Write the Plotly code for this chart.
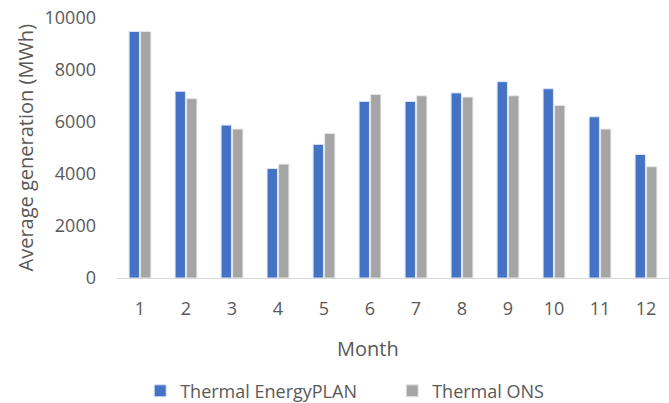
import plotly.graph_objects as go

months = [str(m) for m in range(1, 13)]
energyplan = [9480, 7180, 5880, 4210, 5140, 6790, 6790, 7120, 7550, 7280, 6200, 4750]
ons = [9480, 6900, 5730, 4380, 5560, 7060, 7010, 6960, 7010, 6640, 5730, 4280]
y_ticks = [0, 2000, 4000, 6000, 8000, 10000]

font_family = "Open Sans, Noto Sans, sans-serif"
text_color = "#595959"
fs = 18
title_fs = 20

fig = go.Figure()
fig.add_trace(go.Bar(x=months, y=energyplan, name="Thermal EnergyPLAN",
                     marker=dict(color="#4472C4", line=dict(color="#DCE6F5", width=1))))
fig.add_trace(go.Bar(x=months, y=ons, name="Thermal ONS",
                     marker=dict(color="#A5A5A5", line=dict(color="#E8E8E8", width=1))))

fig.update_layout(
    width=669, height=403,
    margin=dict(l=117, r=0, t=18, b=125, autoexpand=False),
    paper_bgcolor="white", plot_bgcolor="white",
    barmode="group", bargap=0.5, bargroupgap=0.1,
    font=dict(family=font_family, size=fs, color=text_color),
    showlegend=True,
    legend=dict(orientation="h", x=0.042, xanchor="left", y=-0.435, yanchor="middle",
                font=dict(size=fs, color=text_color), entrywidth=207,
                traceorder="normal"),
    xaxis=dict(showline=True, linecolor="#D9D9D9", linewidth=1, ticks="",
               showgrid=False, ticklabelstandoff=14, tickfont=dict(size=fs),
               automargin=False),
    yaxis=dict(range=[0, 10000], tickvals=y_ticks, tickformat="d", showgrid=False,
               zeroline=False, showline=False, ticks="", ticklabelstandoff=20,
               tickfont=dict(size=fs), automargin=False),
    annotations=[
        dict(text="Month", xref="paper", yref="paper", x=0.455, y=-0.27,
             xanchor="center", yanchor="middle", showarrow=False,
             font=dict(size=title_fs, color=text_color)),
        dict(text="Average generation (MWh)", xref="paper", yref="paper",
             x=-0.1667, y=0.502, xanchor="center", yanchor="middle", textangle=-90,
             showarrow=False, font=dict(size=title_fs, color=text_color)),
    ],
)

fig.write_html(
    "out.html",
    config={"displayModeBar": False},
    post_script="document.body.style.margin='0';document.body.style.overflow='hidden';",
)
